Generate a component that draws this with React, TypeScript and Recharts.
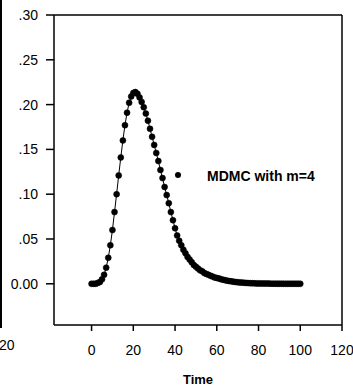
import React from "react";
import { LineChart, Line, XAxis, YAxis, ReferenceLine } from "recharts";

// time points of the MDMC curve
const times = [
	0, 1, 2, 3, 4, 5, 6, 7, 8, 9, 10, 11, 12, 13, 14, 15, 16, 17, 18, 19, 20,
	21, 22, 23, 24, 25, 26, 27, 28, 29, 30, 31, 32, 33, 34, 35, 36, 37, 38, 39, 40,
	41, 42, 43, 44, 45, 46, 47, 48, 49, 50, 51, 52, 53, 54, 55, 56, 57, 58, 59, 60,
	61, 62, 63, 64, 65, 66, 67, 68, 69, 70, 71, 72, 73, 74, 75, 76, 77, 78, 79, 80,
	81, 82, 83, 84, 85, 86, 87, 88, 89, 90, 91, 92, 93, 94, 95, 96, 97, 98, 99, 100,
];

// values
const mdmc = [
	0.0, 0.0, 0.0, 0.001, 0.002, 0.005, 0.01, 0.018, 0.029, 0.043, 0.06,
	0.08, 0.1, 0.121, 0.141, 0.16, 0.177, 0.191, 0.202, 0.209, 0.213,
	0.214, 0.212, 0.208, 0.203, 0.197, 0.19, 0.182, 0.173, 0.164, 0.155,
	0.146, 0.137, 0.127, 0.118, 0.108, 0.099, 0.09, 0.08, 0.071, 0.062,
	0.054, 0.048, 0.043, 0.038, 0.034, 0.03, 0.027, 0.024, 0.021, 0.019,
	0.017, 0.015, 0.014, 0.012, 0.011, 0.01, 0.009, 0.008, 0.007, 0.0065,
	0.006, 0.0052, 0.0045, 0.004, 0.0035, 0.003, 0.0027, 0.0023, 0.002, 0.0017,
	0.0015, 0.0013, 0.0011, 0.001, 0.0008, 0.0007, 0.0006, 0.0005, 0.0004, 0.0004,
	0.0003, 0.0003, 0.0002, 0.0002, 0.0002, 0.0001, 0.0001, 0.0001, 0.0001, 0.0001,
	0.0001, 0.0, 0.0, 0.0, 0.0, 0.0, 0.0, 0.0, 0.0, 0.0,
];

const xTicks = [0, 20, 40, 60, 80, 100, 120];
const yTicks = [0, 0.05, 0.1, 0.15, 0.2, 0.25, 0.3];

const data = times.map((t, i) => ({ t, v: mdmc[i] }));

const font = "'Liberation Sans', Arial, sans-serif";
const tickStyle = { fill: "#000", fontSize: 14, fontFamily: font };

const fmtY = (v: number) => (v === 0 ? "0.00" : v.toFixed(2).replace(/^0/, ""));

export default function App() {
	return (
		<div style={{ position: "absolute", left: 0, top: 0, width: 353, height: 389, background: "#fff", overflow: "hidden" }}>
			{/* edge of the neighbouring panel */}
			<div style={{ position: "absolute", left: 0, top: 0, width: 2, height: 328, background: "#000" }} />
			<span style={{ position: "absolute", left: -1, top: 337, fontSize: 14, fontFamily: font, color: "#000" }}>20</span>

			<LineChart width={353} height={389} data={data} margin={{ top: 15, right: 11, left: 0, bottom: 0 }}>
				<XAxis
					dataKey="t"
					type="number"
					domain={[-18, 120]}
					ticks={xTicks}
					height={64}
					tick={tickStyle}
					tickSize={6}
					tickMargin={14}
					axisLine={{ stroke: "#000", strokeWidth: 1.5 }}
					tickLine={{ stroke: "#000", strokeWidth: 1.5 }}
					label={{ value: "Time", position: "insideBottom", offset: 5, fill: "#000", fontSize: 13, fontWeight: "bold", fontFamily: font }}
				/>
				<YAxis
					type="number"
					domain={[-0.046, 0.3]}
					ticks={yTicks}
					width={54}
					tick={tickStyle}
					tickFormatter={fmtY}
					tickSize={8}
					tickMargin={8}
					axisLine={{ stroke: "#000", strokeWidth: 1.5 }}
					tickLine={{ stroke: "#000", strokeWidth: 1.5 }}
				/>
				<ReferenceLine y={0.3} stroke="#000" strokeWidth={1.5} />
				<ReferenceLine x={120} stroke="#000" strokeWidth={1.5} />
				<Line
					type="linear"
					dataKey="v"
					stroke="#000"
					strokeWidth={1}
					dot={{ r: 3, fill: "#000", stroke: "#000", strokeWidth: 0.5 }}
					isAnimationActive={false}
				/>
			</LineChart>

			{/* legend */}
			<div style={{ position: "absolute", left: 174, top: 165, display: "flex", alignItems: "center", fontFamily: font, fontSize: 14, fontWeight: "bold", color: "#000" }}>
				<svg width={8} height={16}>
					<circle cx={4} cy={8} r={3} fill="#000" />
				</svg>
				<span style={{ marginLeft: 25, marginTop: 3 }}>MDMC with m=4</span>
			</div>
		</div>
	);
}
